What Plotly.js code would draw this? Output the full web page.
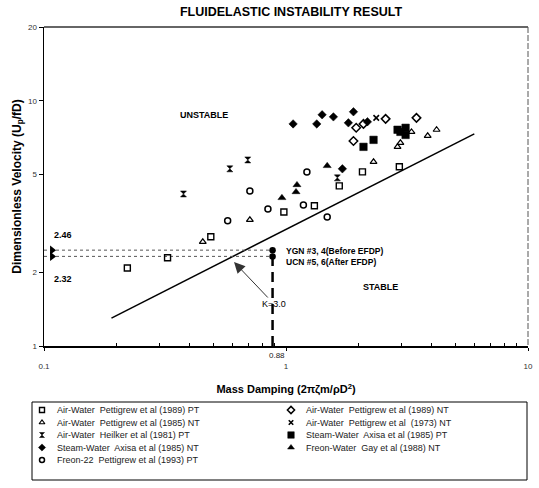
<!DOCTYPE html>
<html>
<head>
<meta charset="utf-8">
<script src="https://cdn.plot.ly/plotly-3.0.1.min.js"></script>
<style>html,body{margin:0;padding:0;background:#fff;}#chart{width:539px;height:488px;}</style>
</head>
<body>
<div id="chart"></div>
<script>
// ---------------- DATA ----------------
const seriesNames = [
  "Air-Water  Pettigrew et al (1989) PT",
  "Air-Water  Pettigrew et al (1985) NT",
  "Air-Water  Heilker et al (1981) PT",
  "Steam-Water  Axisa et al (1985) NT",
  "Freon-22  Pettigrew et al (1993) PT",
  "Air-Water  Pettigrew et al (1989) NT",
  "Air-Water  Pettigrew et al  (1973) NT",
  "Steam-Water  Axisa et al (1985) PT",
  "Freon-Water  Gay et al (1988) NT"
];
const awPT89X = [0.221, 0.324, 0.489, 0.98, 1.31, 1.66, 2.07, 2.94];
const awPT89Y = [2.08, 2.29, 2.79, 3.52, 3.73, 4.50, 5.13, 5.38];
const awNT85X = [0.453, 0.709, 2.30, 2.89, 2.97, 3.30, 3.85, 4.19];
const awNT85Y = [2.66, 3.27, 5.64, 6.49, 6.74, 7.47, 7.20, 7.62];
const heilkerX = [0.377, 0.586, 0.695, 1.63];
const heilkerY = [4.17, 5.28, 5.74, 4.85];
const swNT85X = [1.07, 1.34, 1.41, 1.57, 1.81, 1.90, 2.17, 1.71];
const swNT85Y = [8.05, 8.05, 8.77, 8.60, 8.13, 9.02, 8.21, 5.28];
const freon22X = [0.574, 0.842, 1.18, 1.48, 0.709, 1.22];
const freon22Y = [3.24, 3.62, 3.76, 3.36, 4.29, 5.13];
const awNT89X = [1.95, 1.90, 2.09, 2.58, 3.46];
const awNT89Y = [7.76, 6.86, 8.05, 8.44, 8.52];
const awNT73X = [2.36];
const awNT73Y = [8.52];
const swPT85X = [2.09, 2.30, 2.89, 2.97, 3.12, 3.12];
const swPT85Y = [6.49, 6.93, 7.62, 7.47, 7.76, 7.26];
const fwNT88X = [0.962, 1.10, 1.11, 1.48];
const fwNT88Y = [4.02, 4.25, 4.54, 5.43];

// stability boundary K = 3.0 (end points)
const boundaryX = [0.19, 6.0];
const boundaryY = [1.30, 7.33];

// plant operating points
const plantX = 0.88;
const plantY = [2.46, 2.32];
const plantLabels = ["YGN #3, 4(Before EFDP)", "UCN #5, 6(After EFDP)"];
const axisMin = 0.1;

const xTickVals = [0.1, 1, 10];
const xTickText = ["0.1", "1", "10"];
const yTickVals = [1, 2, 5, 10, 20];
const yTickText = ["1", "2", "5", "10", "20"];

// ---------------- STYLE ----------------
const W = 539, H = 488;
const PX = p => p / W;
const PY = p => 1 - p / H;
const FONT = "Arial, 'Liberation Sans', sans-serif";

const seriesData = [
  [awPT89X, awPT89Y], [awNT85X, awNT85Y], [heilkerX, heilkerY], [swNT85X, swNT85Y],
  [freon22X, freon22Y], [awNT89X, awNT89Y], [awNT73X, awNT73Y], [swPT85X, swPT85Y], [fwNT88X, fwNT88Y]
];
const markers = [
  {symbol: 'square-open', size: 6, color: '#000', line: {width: 1.4, color: '#000'}},
  {symbol: 'triangle-up-open', size: 6, color: '#000', line: {width: 1.2, color: '#000'}},
  {symbol: 'hourglass', size: 6, color: '#000', line: {width: 0.5, color: '#000'}},
  {symbol: 'diamond', size: 6.5, color: '#000', line: {width: 0.5, color: '#000'}},
  {symbol: 'circle-open', size: 6, color: '#000', line: {width: 1.5, color: '#000'}},
  {symbol: 'diamond-open', size: 6.5, color: '#000', line: {width: 1.5, color: '#000'}},
  {symbol: 'x-thin-open', size: 5.5, color: '#000', line: {width: 1.6, color: '#000'}},
  {symbol: 'square', size: 7.5, color: '#000', line: {width: 0.5, color: '#000'}},
  {symbol: 'triangle-up', size: 7, color: '#000', line: {width: 0.5, color: '#000'}}
];

const traces = [];
// boundary line
traces.push({x: boundaryX, y: boundaryY, mode: 'lines', line: {color: '#000', width: 1.5},
  showlegend: false, hoverinfo: 'skip', xaxis: 'x', yaxis: 'y'});
// dotted reference lines
plantY.forEach(v => traces.push({x: [axisMin, plantX], y: [v, v], mode: 'lines',
  line: {color: '#555', width: 1, dash: 'dot'}, showlegend: false, hoverinfo: 'skip'}));
// vertical dashed line
traces.push({x: [plantX, plantX], y: [1, plantY[0]], mode: 'lines',
  line: {color: '#000', width: 2.5, dash: '10px,6px'}, showlegend: false, hoverinfo: 'skip'});
// plant points
traces.push({x: [plantX, plantX], y: plantY, mode: 'markers',
  marker: {symbol: 'circle', size: 6.5, color: '#000'}, showlegend: false, cliponaxis: false});
// arrows on the y axis
traces.push({x: [axisMin * 1.08, axisMin * 1.08], y: plantY, mode: 'markers',
  marker: {symbol: 'triangle-right', size: 8, color: '#000'}, showlegend: false, cliponaxis: false});

// data series
seriesData.forEach((d, i) => traces.push({
  x: d[0], y: d[1], mode: 'markers', name: seriesNames[i], marker: markers[i],
  showlegend: false, cliponaxis: false, xaxis: 'x', yaxis: 'y'
}));

// custom two-column legend (symbols on an auxiliary axis, rows/cols from index)
const legendAnn = [];
seriesNames.forEach((n, i) => {
  const col = i < 5 ? 0 : 1;
  const row = i < 5 ? i : i - 5;
  const lm = Object.assign({}, markers[i], {size: markers[i].size - 1});
  traces.push({x: [col], y: [row], mode: 'markers', marker: lm, xaxis: 'x2', yaxis: 'y2',
    showlegend: false, hoverinfo: 'skip', cliponaxis: false});
  legendAnn.push({xref: 'x2', yref: 'y2', x: col + 13 / 249, y: row, text: n, showarrow: false,
    xanchor: 'left', yanchor: 'middle', font: {family: FONT, size: 9, color: '#222'}});
});

const annotations = [
  {xref: 'paper', yref: 'paper', x: PX(178), y: PY(108), text: '<b>UNSTABLE</b>', showarrow: false,
    font: {family: FONT, size: 9, color: '#000'}},
  {xref: 'paper', yref: 'paper', x: PX(400), y: PY(287), text: '<b>STABLE</b>', showarrow: false,
    font: {family: FONT, size: 9, color: '#000'}},
  {xref: 'paper', yref: 'paper', x: PX(52), y: PY(235), text: '<b>' + plantY[0].toFixed(2) + '</b>', showarrow: false,
    xanchor: 'left', font: {family: FONT, size: 9, color: '#000'}},
  {xref: 'paper', yref: 'paper', x: PX(52), y: PY(279), text: '<b>' + plantY[1].toFixed(2) + '</b>', showarrow: false,
    xanchor: 'left', font: {family: FONT, size: 9, color: '#000'}},
  {xref: 'paper', yref: 'paper', x: PX(284), y: PY(251), text: '<b>' + plantLabels[0] + '</b>', showarrow: false,
    xanchor: 'left', font: {family: FONT, size: 8.5, color: '#000'}},
  {xref: 'paper', yref: 'paper', x: PX(284), y: PY(262), text: '<b>' + plantLabels[1] + '</b>', showarrow: false,
    xanchor: 'left', font: {family: FONT, size: 8.5, color: '#000'}},
  {xref: 'paper', yref: 'paper', x: PX(277), y: PY(355), yanchor: 'middle', text: String(plantX), showarrow: false,
    font: {family: FONT, size: 8, color: '#222'}},
  {xref: 'paper', yref: 'paper', x: PX(234), y: PY(262), ax: 40, ay: 42, text: 'K=3.0', showarrow: true,
    arrowhead: 2, arrowsize: 2.2, arrowwidth: 1, arrowcolor: '#333', standoff: 0,
    font: {family: FONT, size: 9, color: '#000'}}
].concat(legendAnn);

const shapes = [
  // top and right frame
  {type: 'line', xref: 'paper', yref: 'paper', x0: PX(44), x1: PX(528), y0: PY(27), y1: PY(27),
    line: {color: '#333', width: 1.5}},
  {type: 'line', xref: 'paper', yref: 'paper', x0: PX(528), x1: PX(528), y0: PY(27), y1: PY(346),
    line: {color: '#555', width: 1, dash: '6px,2px'}},
  // legend box
  {type: 'rect', xref: 'paper', yref: 'paper', x0: PX(32), x1: PX(527), y0: PY(480), y1: PY(402),
    line: {color: '#000', width: 1}}
];

const layout = {
  width: W, height: H,
  margin: {l: 0, r: 0, t: 0, b: 0},
  paper_bgcolor: '#fff', plot_bgcolor: 'rgba(0,0,0,0)',
  showlegend: false,
  font: {family: FONT, color: '#000'},
  title: {text: '<b>FLUIDELASTIC INSTABILITY RESULT</b>', x: PX(291), y: PY(12), xanchor: 'center', yanchor: 'middle',
    xref: 'container', yref: 'container', font: {family: FONT, size: 12.5, color: '#000'}},
  xaxis: {
    type: 'log', domain: [PX(44), PX(528)], range: [-1, 1], anchor: 'y',
    tickvals: xTickVals, ticktext: xTickText, ticks: 'outside', ticklen: 3, tickcolor: '#000',
    showline: true, linecolor: '#000', linewidth: 2, showgrid: false, zeroline: false,
    tickfont: {family: FONT, size: 8, color: '#333'}, ticklabelstandoff: 8,
    minor: {ticks: 'inside', ticklen: 3, tickcolor: '#000', tickvals: [0.2,0.3,0.4,0.5,0.6,0.7,0.8,0.9,2,3,4,5,6,7,8,9], showgrid: false},
    title: {text: '<b>Mass Damping (2πζm/ρD<sup>2</sup>)</b>', standoff: 16, font: {family: FONT, size: 11, color: '#000'}}
  },
  yaxis: {
    type: 'log', domain: [1 - 346 / H, 1 - 27 / H], range: [0, Math.log10(20)], anchor: 'x',
    tickvals: yTickVals, ticktext: yTickText, ticks: 'outside', ticklen: 4, tickcolor: '#000',
    showline: true, linecolor: '#000', linewidth: 1.5, showgrid: false, zeroline: false,
    tickfont: {family: FONT, size: 8, color: '#333'},
    title: {text: '<b>Dimensionless Velocity (U<sub>p</sub>/fD)</b>', standoff: 4, font: {family: FONT, size: 12, color: '#000'}}
  },
  xaxis2: {domain: [0, 1], range: [-42 / 249, (W - 42) / 249], visible: false, anchor: 'y2', fixedrange: true},
  yaxis2: {domain: [0, 1], range: [(H - 410) / 12.5, (0 - 410) / 12.5], visible: false, anchor: 'x2', fixedrange: true},
  annotations: annotations,
  shapes: shapes
};

Plotly.newPlot('chart', traces, layout, {staticPlot: true, displayModeBar: false});
</script>
</body>
</html>
